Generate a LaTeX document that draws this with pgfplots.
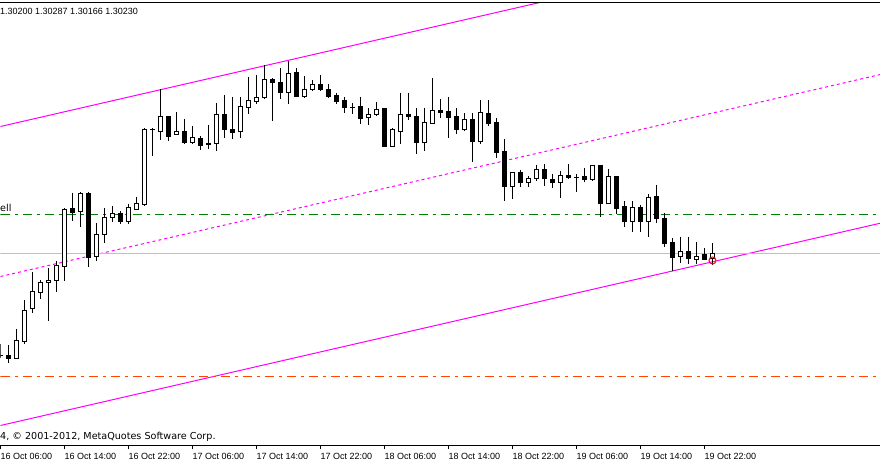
\documentclass[border=0pt]{standalone}
\usepackage{fontspec}
\setmainfont{Liberation Sans}
\newfontfamily\dejavu{DejaVu Sans}
\usepackage{pgfplots}
\usepackage{pgfplotstable}
\pgfplotsset{compat=1.18}
\definecolor{mtmagenta}{HTML}{FF00FF}
\definecolor{mtgreen}{HTML}{008000}
\definecolor{mtorange}{HTML}{FF4500}
\definecolor{mtsilver}{HTML}{C0C0C0}
% EURUSD H1 candles: index (1 per hour from 16 Oct 06:00), open, high, low, close
\pgfplotstableread{
k o h l c
0 1.29618 1.29684 1.29606 1.29618
1 1.29618 1.29678 1.29576 1.29600
2 1.29600 1.29774 1.29600 1.29708
3 1.29702 1.29948 1.29690 1.29888
4 1.29900 1.30116 1.29876 1.30002
5 1.29996 1.30068 1.29960 1.30056
6 1.30056 1.30140 1.29828 1.30068
7 1.30068 1.30182 1.30002 1.30158
8 1.30152 1.30500 1.30068 1.30494
9 1.30500 1.30590 1.30428 1.30476
10 1.30482 1.30596 1.30392 1.30590
11 1.30590 1.30596 1.30152 1.30206
12 1.30212 1.30410 1.30188 1.30344
13 1.30344 1.30500 1.30296 1.30446
14 1.30446 1.30512 1.30422 1.30470
15 1.30470 1.30482 1.30410 1.30422
16 1.30422 1.30524 1.30410 1.30506
17 1.30494 1.30566 1.30494 1.30530
18 1.30524 1.30980 1.30518 1.30974
19 1.30974 1.30980 1.30818 1.30974
20 1.30962 1.31214 1.30914 1.31052
21 1.31052 1.31052 1.30908 1.30932
22 1.30944 1.31076 1.30944 1.30962
23 1.30962 1.31034 1.30890 1.30896
24 1.30896 1.30992 1.30890 1.30926
25 1.30920 1.30932 1.30854 1.30878
26 1.30890 1.30998 1.30860 1.30884
27 1.30890 1.31130 1.30848 1.31064
28 1.31064 1.31178 1.30926 1.30974
29 1.30974 1.31166 1.30920 1.30956
30 1.30962 1.31166 1.30926 1.31112
31 1.31106 1.31286 1.31070 1.31148
32 1.31142 1.31298 1.31130 1.31166
33 1.31166 1.31358 1.31160 1.31274
34 1.31274 1.31280 1.31028 1.31256
35 1.31256 1.31340 1.31160 1.31196
36 1.31196 1.31382 1.31130 1.31310
37 1.31316 1.31340 1.31172 1.31172
38 1.31172 1.31292 1.31166 1.31214
39 1.31214 1.31268 1.31208 1.31244
40 1.31244 1.31298 1.31208 1.31214
41 1.31214 1.31244 1.31166 1.31172
42 1.31178 1.31190 1.31130 1.31142
43 1.31148 1.31166 1.31076 1.31106
44 1.31106 1.31130 1.31070 1.31106
45 1.31112 1.31166 1.31010 1.31040
46 1.31046 1.31100 1.31004 1.31064
47 1.31064 1.31136 1.31058 1.31094
48 1.31100 1.31100 1.30872 1.30872
49 1.30872 1.30980 1.30872 1.30974
50 1.30962 1.31190 1.30890 1.31064
51 1.31064 1.31190 1.31034 1.31052
52 1.31052 1.31100 1.30830 1.30896
53 1.30896 1.31100 1.30848 1.31016
54 1.31010 1.31280 1.31010 1.31088
55 1.31088 1.31154 1.31046 1.31076
56 1.31082 1.31166 1.30926 1.31046
57 1.31052 1.31100 1.30950 1.30974
58 1.30974 1.31070 1.30968 1.31034
59 1.31034 1.31070 1.30782 1.30902
60 1.30902 1.31148 1.30890 1.31076
61 1.31070 1.31148 1.30998 1.31010
62 1.31016 1.31040 1.30806 1.30836
63 1.30842 1.30914 1.30548 1.30632
64 1.30632 1.30716 1.30560 1.30716
65 1.30716 1.30728 1.30632 1.30656
66 1.30656 1.30692 1.30632 1.30680
67 1.30680 1.30758 1.30668 1.30734
68 1.30734 1.30764 1.30638 1.30680
69 1.30674 1.30704 1.30626 1.30656
70 1.30656 1.30722 1.30566 1.30698
71 1.30698 1.30764 1.30680 1.30686
72 1.30686 1.30704 1.30602 1.30686
73 1.30692 1.30740 1.30662 1.30674
74 1.30674 1.30758 1.30668 1.30758
75 1.30758 1.30758 1.30452 1.30530
76 1.30530 1.30734 1.30530 1.30692
77 1.30692 1.30692 1.30470 1.30500
78 1.30512 1.30542 1.30392 1.30422
79 1.30422 1.30542 1.30362 1.30506
80 1.30506 1.30518 1.30362 1.30422
81 1.30422 1.30584 1.30332 1.30566
82 1.30572 1.30638 1.30416 1.30440
83 1.30440 1.30470 1.30272 1.30290
84 1.30296 1.30320 1.30128 1.30206
85 1.30212 1.30326 1.30176 1.30242
86 1.30242 1.30326 1.30170 1.30200
87 1.30194 1.30296 1.30170 1.30212
88 1.30224 1.30260 1.30194 1.30194
89 1.30200 1.30287 1.30166 1.30230
}\candles
\begin{document}
\begin{tikzpicture}
\useasboundingbox (-0.5pt,-16.5pt) rectangle (879.5pt,445.5pt);
\begin{axis}[
  at={(0pt,0pt)}, anchor=south west,
  width=880pt, height=443pt, scale only axis,
  xmin=0, xmax=110, ymin=1.29078, ymax=1.31736,
  axis line style={draw=none},
  ytick=\empty,
  xtick={0,8,...,88},
  xticklabels={16 Oct 06:00,16 Oct 14:00,16 Oct 22:00,17 Oct 06:00,17 Oct 14:00,17 Oct 22:00,18 Oct 06:00,18 Oct 14:00,18 Oct 22:00,19 Oct 06:00,19 Oct 14:00,19 Oct 22:00},
  xtick pos=left,
  tick align=outside,
  major tick length=4pt,
  every tick/.style={black, line width=1pt},
  xticklabel style={anchor=base west, inner sep=0pt, yshift=-10.5pt, font=\fontsize{9pt}{10pt}\selectfont},
  unbounded coords=discard,
]
% channel (magenta)
\addplot[mtmagenta, line width=1pt] coordinates {(0,1.30992) (110,1.32206)};
\addplot[mtmagenta, line width=1pt, dash pattern=on 3pt off 3pt] coordinates {(0,1.30092) (110,1.31304)};
\addplot[mtmagenta, line width=1pt] coordinates {(0,1.29198) (110,1.30412)};
% horizontal levels
\addplot[mtgreen, line width=1pt, dash pattern=on 9pt off 5pt on 3pt off 5pt] coordinates {(0,1.30464) (110,1.30464)};
\addplot[mtorange, line width=1pt, dash pattern=on 9pt off 5pt on 3pt off 5pt] coordinates {(0,1.29492) (110,1.29492)};
\addplot[mtsilver, line width=1pt] coordinates {(0,1.30230) (110,1.30230)};
% wicks
\addplot[draw=none, mark=none, error bars/.cd, y dir=minus, y explicit, error mark=none,
  error bar style={draw=black, solid, line width=1pt}]
  table[x=k, y expr={\thisrow{h}+0.00003}, y error expr={\thisrow{h}-\thisrow{l}+0.00006}] {\candles};
% bodies (outline / filled)
\addplot[draw=none, mark=none, error bars/.cd, y dir=minus, y explicit, error mark=none,
  error bar style={draw=black, solid, line width=5pt}]
  table[x=k, y expr={max(\thisrow{o},\thisrow{c})+0.00003}, y error expr={abs(\thisrow{o}-\thisrow{c})+0.00006}] {\candles};
% white interior of bullish bodies
\addplot[draw=none, mark=none, restrict expr to domain={\thisrow{c}-\thisrow{o}}{0.00007:1},
  error bars/.cd, y dir=minus, y explicit, error mark=none,
  error bar style={draw=white, solid, line width=3pt}]
  table[x=k, y expr={\thisrow{c}-0.00003}, y error expr={\thisrow{c}-\thisrow{o}-0.00006}] {\candles};
% marker
\addplot[only marks, mark=o, mark size=3.5pt, red, line width=1pt] coordinates {(89,1.30188)};
\end{axis}
% chart frame (top border and time-scale line)
\fill[black] (-0.5pt,-0.6pt) rectangle (879.5pt,0.6pt);
\fill[black] (-0.5pt,442.4pt) rectangle (879.5pt,443.6pt);
\node[anchor=base west, inner sep=0pt, font=\fontsize{9pt}{10pt}\selectfont] at (-0.5pt,431pt) {1.30200 1.30287 1.30166 1.30230};
\node[anchor=base west, inner sep=0pt, font=\dejavu\fontsize{9.6pt}{10pt}\selectfont] at (-0.5pt,5.5pt) {4, © 2001-2012, MetaQuotes Software Corp.};
\node[anchor=base west, inner sep=0pt, font=\dejavu\fontsize{9.6pt}{10pt}\selectfont] at (-0.5pt,234pt) {ell};
\end{tikzpicture}
\end{document}
